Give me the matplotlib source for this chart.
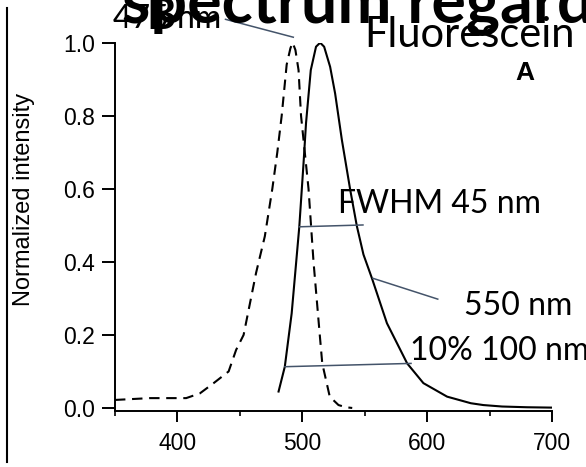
import numpy as np
import matplotlib
matplotlib.use("Agg")
import matplotlib.pyplot as plt
from matplotlib.lines import Line2D

plt.rcParams["font.family"] = "Liberation Sans"
plt.rcParams["axes.linewidth"] = 1.4
plt.rcParams["xtick.labelsize"] = 16.5
plt.rcParams["ytick.labelsize"] = 16.5
plt.rcParams["axes.labelsize"] = 17

W, H = 586, 467

# excitation spectrum (dashed)
ex_wl = [350, 378, 407, 418, 429, 441, 447, 453, 463, 470, 476, 480, 483.5, 487.5,
         490.5, 492.3, 494.5, 497, 499, 502, 505, 507, 509, 514, 516, 522, 529, 535, 540]
ex_val = [0.022, 0.027, 0.027, 0.04, 0.068, 0.10, 0.159, 0.20, 0.37, 0.47, 0.60, 0.70,
          0.80, 0.94, 0.985, 1.0, 0.98, 0.925, 0.80, 0.70, 0.60, 0.50, 0.40, 0.20, 0.122,
          0.031, 0.008, 0.002, 0.0]

# emission spectrum (solid)
em_wl = [481, 486, 491.5, 497.6, 501, 503, 506.8, 511, 514.3, 517.5, 522.3, 526.3,
         531.7, 538.4, 543.7, 549, 555.8, 567.8, 584, 597, 616, 635, 645, 660, 680, 700]
em_val = [0.045, 0.113, 0.259, 0.496, 0.67, 0.78, 0.925, 0.989, 1.0, 0.989, 0.934,
          0.861, 0.734, 0.597, 0.498, 0.42, 0.355, 0.232, 0.122, 0.068, 0.031, 0.013,
          0.008, 0.004, 0.002, 0.001]

# annotation pointer lines (wavelength, intensity)
peak_line = ([438.5, 492.8], [1.064, 1.015])
fwhm_line = ([497.6, 548.6], [0.496, 0.501])
tail_line = ([556.6, 608.5], [0.355, 0.298])
ten_line = ([486.1, 587.1], [0.113, 0.122])

y_ticks = [0.0, 0.2, 0.4, 0.6, 0.8, 1.0]
x_major = [400, 500, 600, 700]
x_minor = [350, 450, 550, 650]

callout = "#44546A"


def px(x, y):
    # pixel position (from top-left) to figure fraction
    return x / W, 1 - y / H


fig = plt.figure(figsize=(W / 100, H / 100), dpi=100)
ax = fig.add_axes([115 / W, 1 - 410.9 / H, (552 - 115) / W, 368.2 / H])

ax.plot(ex_wl, ex_val, color="black", lw=1.5, ls=(0, (5, 3.2)))
ax.plot(em_wl, em_val, color="black", lw=1.5)

for xs, ys in (peak_line, fwhm_line, tail_line, ten_line):
    ax.plot(xs, ys, color=callout, lw=1.1, clip_on=False)

ax.set_xlim(350, 700)
ax.set_ylim(-0.008, 1.0)
ax.set_xticks(x_major)
ax.set_xticks(x_minor, minor=True)
ax.set_yticks(y_ticks)
ax.set_yticklabels(["%.1f" % v for v in y_ticks])
ax.spines["right"].set_visible(False)
ax.spines["top"].set_visible(False)
ax.tick_params(axis="y", direction="out", length=9.4, width=1.4, pad=5)
ax.tick_params(axis="x", which="major", direction="out", length=8, width=1.4, pad=7)
ax.tick_params(axis="x", which="minor", direction="out", length=3.6, width=1.2)

ax.set_ylabel("Normalized intensity")
ax.yaxis.set_label_coords((35 - 115) / 437, 0.575)

# slide texts
fig.text(*px(122, 23), "spectrum regard", family="Lato", weight="bold", fontsize=46.5,
         va="baseline", ha="left")
fig.text(*px(113, 28), "475 nm", family="Lato", fontsize=23, va="baseline", ha="left")
fig.text(*px(146, 29), "B", family="Lato", weight="bold", fontsize=32, va="baseline", ha="left")
fig.text(*px(364, 47), "Fluorescein", family="Lato", fontsize=30, va="baseline", ha="left")
fig.text(*px(515, 80), "A", family="Liberation Sans", weight="bold", fontsize=19,
         va="baseline", ha="left")
fig.text(*px(338, 213), "FWHM 45 nm", family="Lato", fontsize=23, va="baseline", ha="left")
fig.text(*px(464, 315), "550 nm", family="Lato", fontsize=23, va="baseline", ha="left")
fig.text(*px(410, 360), "10% 100 nm", family="Lato", fontsize=23, va="baseline", ha="left")

# slide border at left
fig.add_artist(Line2D([7 / W, 7 / W], [1 - 8 / H, 1 - 462 / H], color="black", lw=1.5))

fig.savefig("out.png", dpi=100)
